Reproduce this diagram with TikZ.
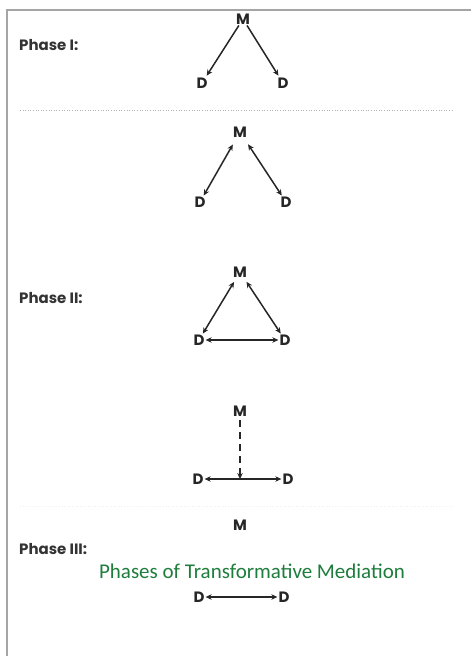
\documentclass[tikz,border=0pt]{standalone}
\usepackage{fontspec}
\setmainfont{Poppins}
\newfontfamily\titlefont{Carlito}
\definecolor{titleGreen}{RGB}{30,125,60}
\definecolor{frameGray}{RGB}{165,165,165}
\usetikzlibrary{calc, positioning, arrows.meta}

\begin{document}
\begin{tikzpicture}[
  x=1pt, y=-1pt,
  every node/.style={font=\bfseries\fontsize{12}{14}\selectfont, inner sep=1pt},
  fase/.style={anchor=west, font=\bfseries\fontsize{15}{17}\selectfont, text=black!80},
  actor/.style={font=\bfseries\fontsize{15}{17}\selectfont, text=black!85},
  flecha/.style={-{Stealth[length=6pt,width=5.5pt]}, line width=1.5pt, black!85},
  doble/.style={{Stealth[length=6pt,width=5.5pt]}-{Stealth[length=6pt,width=5.5pt]}, line width=1.5pt, black!85},
  titulo/.style={font=\titlefont\fontsize{21}{24}\selectfont, text=titleGreen}
]
  \useasboundingbox (0,0) rectangle (471,656);

  % --- Marco ---
  \draw[frameGray, line width=2.5pt] (7,656) -- (7,10) -- (471,10);

  % --- Fase I ---
  \node[fase]  (f1)  at (18,45)  {Phase I:};
  \node[actor] (m1)  at (243,19) {M};
  \node[actor] (d1a) at (202,83) {D};
  \node[actor] (d1b) at (283,83) {D};
  \draw[flecha, shorten >=1pt] (m1) -- (d1a);
  \draw[flecha, shorten >=1pt] (m1) -- (d1b);

  % --- Separador ---
  \draw[gray!60, dotted, line width=0.6pt] (20,110) -- (452,110);

  % --- Fase II (inicio) ---
  \node[actor] (m2)  at (240,132) {M};
  \node[actor] (d2a) at (200,202) {D};
  \node[actor] (d2b) at (286,202) {D};
  \draw[doble, shorten <=7pt] (m2) -- (d2a);
  \draw[doble, shorten <=7pt] (m2) -- (d2b);

  % --- Fase II ---
  \node[fase]  (f2)  at (18,298)  {Phase II:};
  \node[actor] (m3)  at (240,272) {M};
  \node[actor] (d3a) at (199,340) {D};
  \node[actor] (d3b) at (285,340) {D};
  \draw[doble, shorten <=4pt] (m3) -- (d3a);
  \draw[doble, shorten <=4pt] (m3) -- (d3b);
  \draw[doble] (d3a) -- (d3b);

  % --- Fase II (final) ---
  \node[actor] (m4)  at (240,411) {M};
  \node[actor] (d4a) at (198,479) {D};
  \node[actor] (d4b) at (288,479) {D};
  \draw[doble] (d4a) -- (d4b);
  \draw[flecha, dashed, dash pattern=on 7pt off 5pt, shorten <=3pt] (m4) -- (m4 |- d4a);

  % --- Separador tenue ---
  \draw[gray!12, dotted, line width=0.6pt] (20,506) -- (452,506);

  % --- Fase III ---
  \node[fase]  (f3)  at (18,549)  {Phase III:};
  \node[actor] (m5)  at (240,525) {M};
  \node[actor] (d5a) at (199,597) {D};
  \node[actor] (d5b) at (284,597) {D};
  \draw[doble] (d5a) -- (d5b);

  % --- Titulo ---
  \node[titulo] (tit) at (252,571) {Phases of Transformative Mediation};
\end{tikzpicture}
\end{document}
